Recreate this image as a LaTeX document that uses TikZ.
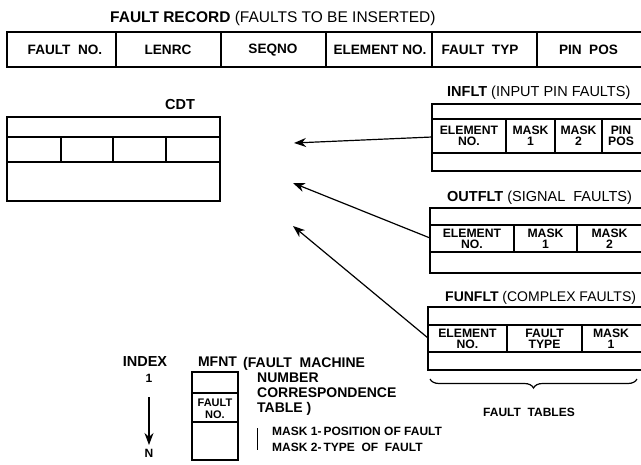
\documentclass[tikz,border=0pt]{standalone}
\usepackage{fontspec}
\setmainfont{Liberation Sans}
\usetikzlibrary{arrows.meta}
\usetikzlibrary{decorations.pathreplacing}

\tikzset{
  frame/.style={line width=1.5pt},
  cell/.style={font=\bfseries\fontsize{12.2}{11}\selectfont, align=center, inner sep=0pt},
  reclabel/.style={font=\bfseries\fontsize{13.6}{13}\selectfont, inner sep=0pt},
  tabtitle/.style={font=\fontsize{14.5}{14}\selectfont, anchor=west, inner sep=0pt},
  tablename/.style={font=\bfseries\fontsize{14.5}{14}\selectfont, inner sep=0pt},
  note/.style={font=\bfseries\fontsize{14}{15}\selectfont, align=left, inner sep=0pt},
  link/.style={-{Stealth[length=12pt,width=9pt]}, line width=1.2pt},
}

\begin{document}
\begin{tikzpicture}[x=1pt,y=-1pt]
  \useasboundingbox (0,0) rectangle (641,464);
  % fault record
  \node[tabtitle, font=\fontsize{15.5}{15}\selectfont] (rectitle) at (110,18) {\textbf{FAULT RECORD} (FAULTS TO BE INSERTED)};
  \draw[frame] (7,32) rectangle (643,67);
  \draw[frame] foreach \x in {116,221,326,432,537}{(\x,32) -- (\x,67)};
  \foreach \x/\t [count=\i] in {65/FAULT\ \ NO., 168/LENRC, 273/SEQNO, 380/ELEMENT NO., 480/FAULT\ \ TYP, 588.5/PIN\ \ POS}
    \node[reclabel] (rec\i) at (\x,50) {\t};

  % CDT
  \node[tablename] (cdtname) at (180,105) {CDT};
  \draw[frame] (7,117) rectangle (220,201);
  \draw[frame] (7,137) -- (220,137) (7,162) -- (220,162);
  \draw[frame] foreach \x in {61,113,166}{(\x,137) -- (\x,162)};
  \coordinate (cdt-in1) at (294,143);
  \coordinate (cdt-in2) at (293,183);
  \coordinate (cdt-in3) at (293,226);

  % INFLT
  \node[tabtitle] (infltname) at (447,93) {\textbf{INFLT} (INPUT PIN FAULTS)};
  \draw[frame] (432,104) rectangle (643,171);
  \draw[frame] (432,119) -- (643,119) (432,153) -- (643,153);
  \draw[frame] foreach \x in {506,555,602}{(\x,119) -- (\x,153)};
  \node[cell] (in1) at (469,136) {ELEMENT\\NO.};
  \node[cell] (in2) at (530.5,136) {MASK\\1};
  \node[cell] (in3) at (578.5,136) {MASK\\2};
  \node[cell] (in4) at (621,136) {PIN\\POS};
  \coordinate (inflt-w) at (432,137);

  % OUTFLT
  \node[tabtitle] (outfltname) at (447,198) {\textbf{OUTFLT} (SIGNAL\ \ FAULTS)};
  \draw[frame] (430,208) rectangle (643,273);
  \draw[frame] (430,225) -- (643,225) (430,252) -- (643,252);
  \draw[frame] foreach \x in {514,577}{(\x,225) -- (\x,252)};
  \node[cell] (out1) at (472,238.5) {ELEMENT\\NO.};
  \node[cell] (out2) at (545.5,238.5) {MASK\\1};
  \node[cell] (out3) at (609.5,238.5) {MASK\\2};
  \coordinate (outflt-w) at (430,238);

  % FUNFLT
  \node[tabtitle, font=\fontsize{14}{14}\selectfont] (funfltname) at (445,298) {\textbf{FUNFLT} (COMPLEX FAULTS)};
  \draw[frame] (428,307) rectangle (643,370);
  \draw[frame] (428,325) -- (643,325) (428,352) -- (643,352);
  \draw[frame] foreach \x in {507,582}{(\x,325) -- (\x,352)};
  \node[cell] (fun1) at (467.5,338.5) {ELEMENT\\NO.};
  \node[cell] (fun2) at (544.5,338.5) {FAULT\\TYPE};
  \node[cell] (fun3) at (611,338.5) {MASK\\1};
  \coordinate (funflt-w) at (428,338);

  % links to CDT
  \draw[link] (inflt-w) -- (cdt-in1);
  \draw[link] (outflt-w) -- (cdt-in2);
  \draw[link] (funflt-w) -- (cdt-in3);

  % fault tables brace
  \draw[line width=1.2pt, decoration={brace,mirror,amplitude=9pt}, decorate] (430,379) -- (637,379);
  \node[tablename, font=\bfseries\fontsize{12}{12}\selectfont] (tables) at (529,412) {FAULT\ \ TABLES};

  % MFNT
  \node[tablename] (index) at (145,362) {INDEX};
  \node[tablename, font=\bfseries\fontsize{12}{12}\selectfont] (first) at (149,378) {1};
  \node[tablename, font=\bfseries\fontsize{12}{12}\selectfont] (last) at (149,453) {N};
  \coordinate (idx-top) at (149,397);
  \coordinate (idx-bot) at (149,445);
  \draw[link] (idx-top) -- (idx-bot);
  \node[tablename, font=\bfseries\fontsize{14}{14}\selectfont] (mfntname) at (217.5,362) {MFNT};
  \draw[frame] (192,372) rectangle (238,460);
  \draw[frame] (192,393) -- (238,393) (192,422) -- (238,422);
  \node[cell, font=\bfseries\fontsize{11}{12}\selectfont] (mfnt1) at (215,409) {FAULT\\NO.};
  \node[note, anchor=north west] (mfntnote) at (243,357) {(FAULT\ \ MACHINE\\\hspace*{14pt}NUMBER\\\hspace*{14pt}CORRESPONDENCE\\\hspace*{14pt}TABLE )};
  \draw[line width=1pt] (257,428) -- (257,450);
  \node[note, anchor=west, font=\bfseries\fontsize{12}{16}\selectfont] (masknote) at (272,439) {MASK 1-\,POSITION OF FAULT\\MASK 2-\,TYPE\ \ OF\ \ FAULT};
\end{tikzpicture}
\end{document}
